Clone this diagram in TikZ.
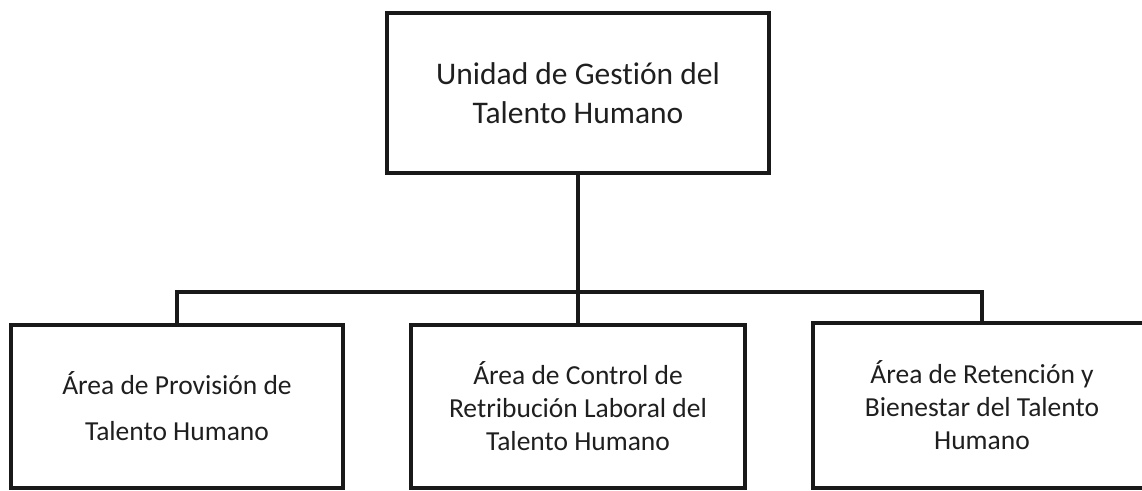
\documentclass[tikz,border=0pt]{standalone}
\usepackage{fontspec}
\setmainfont{Carlito}[Ligatures=NoCommon]
\begin{document}
\begin{tikzpicture}[x=1pt,y=-1pt,
  orgbox/.style={draw=black!90, line width=3.6pt, rectangle, inner sep=0pt, align=center, text=black!88},
  topfont/.style={font=\fontsize{31.5}{39}\selectfont},
  subfont/.style={font=\fontsize{27.5}{33}\selectfont},
  widefont/.style={font=\fontsize{27.5}{46}\selectfont},
  link/.style={draw=black!90, line width=3.6pt}]
\clip (0,0) rectangle (1142,490);
\fill[white] (0,0) rectangle (1142,490);
\node[orgbox, topfont, minimum width=382pt, minimum height=160pt] (top) at (578,93) {Unidad de Gestión del\\Talento Humano};
\node[orgbox, widefont, minimum width=332pt, minimum height=163pt] (left) at (177,406.5) {Área de Provisión de\\Talento Humano};
\node[orgbox, subfont, minimum width=334pt, minimum height=163pt] (mid) at (578,406.5) {Área de Control de\\Retribución Laboral del\\Talento Humano};
\node[orgbox, subfont, minimum width=338pt, minimum height=165pt] (right) at (982,405.5) {Área de Retención y\\Bienestar del Talento\\Humano};
\coordinate (bus) at (578,292);
\draw[link] (top.south) -- (mid.north);
\draw[link] (left.north) -- (left.north |- bus) -- (right.north |- bus) -- (right.north);
\end{tikzpicture}
\end{document}
